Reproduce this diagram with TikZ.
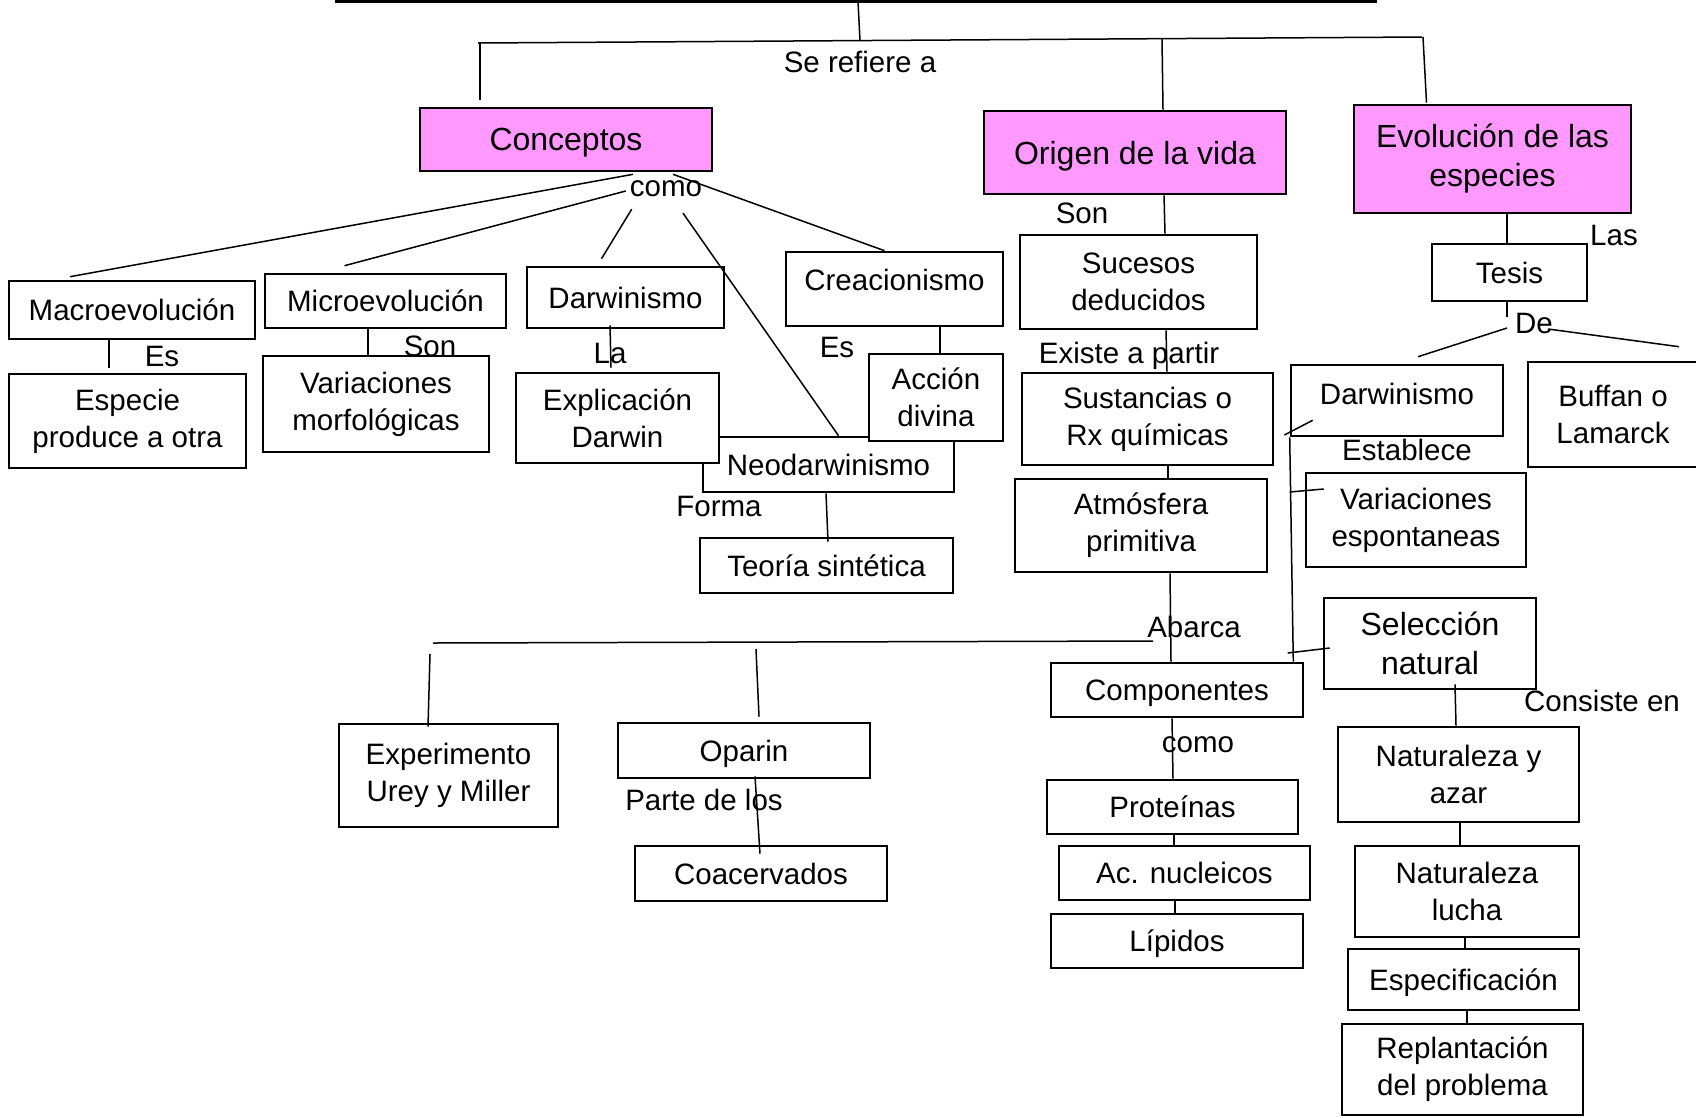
\documentclass[tikz,border=0pt]{standalone}
\usepackage{fontspec}
\setmainfont{Liberation Sans}
\begin{document}
\begin{tikzpicture}[x=1pt, y=-1pt,
    box/.style={draw, line width=2.6pt, fill=white, align=center, inner sep=0pt,
      font=\fontsize{29.5}{37}\selectfont},
    one/.style={box, text depth=0pt},
    head/.style={box, fill=my-pink, font=\fontsize{32}{39}\selectfont},
    wh/.style 2 args={minimum width=#1pt, minimum height=#2pt},
    word/.style={inner sep=0pt, text depth=0pt, font=\fontsize{29.5}{37}\selectfont},
    link/.style={line width=1.5pt},
    heavy/.style={line width=3.5pt}]
    \definecolor{my-pink}{RGB}{255,153,255}
    \useasboundingbox (0,0) rectangle (1696,1117);
    \coordinate (topL) at (335,1.5);
    \coordinate (topR) at (1377,1.5);
    \coordinate (topM) at (858,1.5);
    \coordinate (barM) at (860,40.5);
    \coordinate (barL) at (478,43);
    \coordinate (barR) at (1422,37);
    \coordinate (barA) at (480,43);
    \coordinate (barB) at (1162,39);
    \coordinate (barC) at (1423,37);
    \coordinate (abL) at (433,643);
    \coordinate (abR) at (1153,641);
    \coordinate (abA) at (430,654);
    \coordinate (abB) at (756,649);
    \node[head, wh={292}{63}, text depth=0pt] (conceptos) at (566,139.5) {Conceptos};
    \node[head, wh={302}{83}, text depth=0pt] (origen) at (1135,152.5) {Origen de la vida};
    \node[head, wh={277}{108}] (evolucion) at (1492.5,159) {Evolución de las\\especies};
    \node[one, wh={246}{58}] (macro) at (132,310) {Macroevolución};
    \node[one, wh={241}{54}] (micro) at (385.5,301) {Microevolución};
    \node[one, wh={197}{61}] (darwinL) at (625.5,297.5) {Darwinismo};
    \node[box, wh={217}{74}, text depth=19pt] (creacion) at (894.5,289) {Creacionismo};
    \node[box, wh={237}{94}] (sucesos) at (1138.5,282) {Sucesos\\deducidos};
    \node[one, wh={155}{57}] (tesis) at (1509.5,272.5) {Tesis};
    \node[box, wh={237}{94}] (especie) at (127.5,421) {Especie\\produce a otra};
    \node[box, wh={226}{96}] (variacionesM) at (376,404) {Variaciones\\morfológicas};
    \node[one, wh={251}{55}] (neodarw) at (828.5,464.5) {Neodarwinismo};
    \node[box, wh={203}{90}] (explicacion) at (617.5,418) {Explicación\\Darwin};
    \node[box, wh={134}{87}] (accion) at (936,397.5) {Acción\\divina};
    \node[one, wh={253}{55}] (teoria) at (826.5,565.5) {Teoría sintética};
    \node[box, wh={251}{92}] (sustancias) at (1147.5,419) {Sustancias o\\Rx químicas};
    \node[box, wh={252}{93}] (atmosfera) at (1141,525.5) {Atmósfera\\primitiva};
    \node[box, wh={212}{71}, text depth=14pt] (darwinR) at (1397,400.5) {Darwinismo};
    \node[box, wh={170}{105}] (buffan) at (1613,414.5) {Buffan o\\Lamarck};
    \node[box, wh={220}{94}] (variacionesE) at (1416,520) {Variaciones\\espontaneas};
    \node[box, wh={212}{91}, font=\fontsize{32}{39}\selectfont] (seleccion) at (1430,643.5) {Selección\\natural};
    \node[one, wh={252}{54}] (componentes) at (1177,690) {Componentes};
    \node[box, wh={219}{103}] (experimento) at (448.5,775.5) {Experimento\\Urey y Miller};
    \node[one, wh={252}{55}] (oparin) at (744,750.5) {Oparin};
    \node[one, wh={252}{55}] (coacervados) at (761,873.5) {Coacervados};
    \node[box, wh={241}{95}] (natazar) at (1458.5,774.5) {Naturaleza y\\azar};
    \node[one, wh={251}{54}] (proteinas) at (1172.5,807) {Proteínas};
    \node[one, wh={251}{54}] (acnucleicos) at (1184.5,873) {Ac. nucleicos};
    \node[box, wh={224}{91}] (natlucha) at (1467,891.5) {Naturaleza\\lucha};
    \node[one, wh={252}{54}] (lipidos) at (1177,941) {Lípidos};
    \node[one, wh={231}{61}] (especif) at (1463.5,979.5) {Especificación};
    \node[box, wh={241}{91}] (replant) at (1462.5,1069.5) {Replantación\\del problema};
    \node[word] (serefiere) at (860,62) {Se refiere a};
    \node[word] (como1) at (666,189) {como};
    \node[word] (es1) at (162,356) {Es};
    \node[word] (son1) at (430,346) {Son};
    \node[word] (la) at (610,353) {La};
    \node[word] (es2) at (837,347) {Es};
    \node[word] (son2) at (1082,213) {Son};
    \node[word] (existe) at (1129,353) {Existe a partir};
    \node[word] (las) at (1614,235) {Las};
    \node[word] (de) at (1534,323) {De};
    \node[word] (establece) at (1407,450) {Establece};
    \node[word] (forma) at (719,506) {Forma};
    \node[word] (abarca) at (1194,627) {Abarca};
    \node[word] (como2) at (1198,745) {como};
    \node[word] (consiste) at (1602,701) {Consiste en};
    \node[word] (parte) at (704,800) {Parte de los};
    \draw[heavy] (topL) -- (topR);
    \draw[link] (topM) -- (barM);
    \draw[link] (barL) -- (barR);
    \draw[link] (barA) -- ([xshift=-86pt,yshift=7pt]conceptos.north);
    \draw[link] (barB) -- ([xshift=28pt]origen.north);
    \draw[link] (barC) -- ([xshift=-66pt,yshift=1pt]evolucion.north);
    \draw[link] ([xshift=67pt,yshift=-2pt]conceptos.south) -- ([xshift=-62pt,yshift=3pt]macro.north);
    \draw[link] ([xshift=-4pt,yshift=-2pt]como1.west) -- ([xshift=-41pt,yshift=7pt]micro.north);
    \draw[link] ([xshift=2pt,yshift=-12pt]como1.south west) -- ([xshift=-24pt,yshift=7pt]darwinL.north);
    \draw[link] ([xshift=17pt,yshift=-16pt]como1.south) -- ([xshift=10pt]neodarw.north);
    \draw[link] ([xshift=107pt,yshift=-2pt]conceptos.south) -- ([xshift=-10pt]creacion.north);
    \draw[link] ([xshift=-23pt]macro.south) -- ([xshift=-18.5pt,yshift=5pt]especie.north);
    \draw[link] ([xshift=-17.5pt]micro.south) -- ([xshift=-8pt]variacionesM.north);
    \draw[link] ([xshift=-15.5pt,yshift=4pt]darwinL.south) -- ([xshift=-6.5pt,yshift=4pt]explicacion.north);
    \draw[link] ([xshift=45.5pt]creacion.south) -- ([xshift=4pt]accion.north);
    \draw[link] ([xshift=-2.5pt]neodarw.south) -- ([xshift=1.5pt,yshift=-5pt]teoria.north);
    \draw[link] ([xshift=29pt]origen.south) -- ([xshift=26.5pt]sucesos.north);
    \draw[link] ([xshift=27.5pt]sucesos.south) -- ([xshift=19.5pt]sustancias.north);
    \draw[link] ([xshift=20.5pt]sustancias.south) -- ([xshift=27pt]atmosfera.north);
    \draw[link] ([xshift=29pt]atmosfera.south) -- ([xshift=-6pt]componentes.north);
    \draw[link] (abL) -- (abR);
    \draw[link] (abA) -- ([xshift=-20.5pt,yshift=-4pt]experimento.north);
    \draw[link] (abB) -- ([xshift=15pt,yshift=5pt]oparin.north);
    \draw[link] ([xshift=11pt,yshift=3pt]oparin.south) -- ([xshift=-1pt,yshift=-9pt]coacervados.north);
    \draw[link] ([xshift=-5pt]componentes.south) -- ([xshift=0.5pt]proteinas.north);
    \draw[link] ([xshift=1.5pt]proteinas.south) -- ([xshift=-10.5pt]acnucleicos.north);
    \draw[link] ([xshift=-9.5pt]acnucleicos.south) -- ([xshift=-2pt]lipidos.north);
    \draw[link] ([xshift=14.5pt]evolucion.south) -- ([xshift=-2.5pt]tesis.north);
    \draw[link] ([xshift=-2.5pt]tesis.south) -- ([xshift=-27pt,yshift=6pt]de.center);
    \draw[link] ([xshift=-27pt,yshift=-5pt]de.center) -- ([xshift=21pt,yshift=7pt]darwinR.north);
    \draw[link] ([xshift=14pt,yshift=-6pt]de.center) -- ([xshift=66pt,yshift=14pt]buffan.north);
    \draw[link] ([xshift=10pt,yshift=-16pt]sustancias.east) -- ([xshift=23pt,yshift=17pt]darwinR.south west);
    \draw[link] (darwinR.south west) -- ([xshift=-11pt]componentes.north east);
    \draw[link] ([xshift=-15pt,yshift=28pt]variacionesE.west) -- ([xshift=19pt,yshift=31pt]variacionesE.west);
    \draw[link] ([xshift=-35pt,yshift=-9.5pt]seleccion.west) -- ([xshift=7pt,yshift=-4.5pt]seleccion.west);
    \draw[link] ([xshift=25pt,yshift=6pt]seleccion.south) -- ([xshift=-2.5pt]natazar.north);
    \draw[link] ([xshift=1.5pt]natazar.south) -- ([xshift=-7pt]natlucha.north);
    \draw[link] ([xshift=-2pt]natlucha.south) -- ([xshift=1.5pt]especif.north);
    \draw[link] ([xshift=3.5pt]especif.south) -- ([xshift=4.5pt]replant.north);
\end{tikzpicture}
\end{document}
